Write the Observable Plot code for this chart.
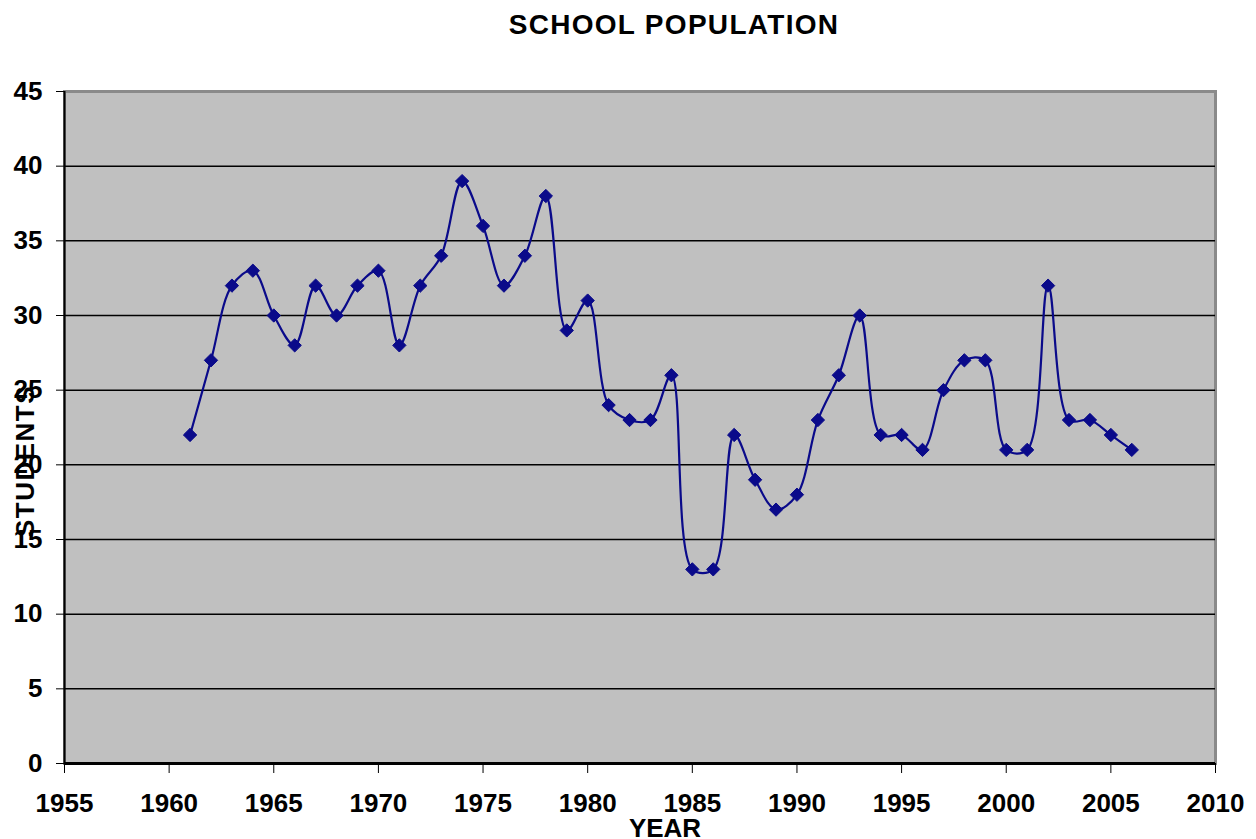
<!DOCTYPE html>
<html>
<head>
<meta charset="utf-8">
<script src="https://cdn.jsdelivr.net/npm/d3@7"></script>
<script src="https://cdn.jsdelivr.net/npm/@observablehq/plot@0.6"></script>
<style>
  body { margin: 0; background: #fff; font-family: "Liberation Sans", Arial, sans-serif; }
  #wrap { width: 1256px; height: 839px; position: relative; overflow: hidden; }
  #title { position: absolute; left: 0; width: 1256px; top: 7px; padding-left: 92px; box-sizing: border-box; text-align: center; font-weight: bold; font-size: 28px; letter-spacing: 1.3px; height: 42px; line-height: 36px; }
  #chart { position: absolute; left: 0; top: 50px; }
  #ylab { position: absolute; left: 25px; top: 461px; width: 0; height: 0; z-index: 2; }
  #ylab span { position: absolute; left: 0; top: 0; transform: translate(-50%, -50%) rotate(-90deg); white-space: nowrap; font-weight: bold; font-size: 26px; letter-spacing: 1.5px; line-height: 26px; }
</style>
</head>
<body>
<div id="wrap">
  <div id="title">SCHOOL POPULATION</div>
  <div id="chart"></div>
  <div id="ylab"><span>STUDENTS</span></div>
</div>
<script>
const years = [1961,1962,1963,1964,1965,1966,1967,1968,1969,1970,1971,1972,1973,1974,1975,1976,1977,1978,1979,1980,1981,1982,1983,1984,1985,1986,1987,1988,1989,1990,1991,1992,1993,1994,1995,1996,1997,1998,1999,2000,2001,2002,2003,2004,2005,2006];
const students = [22,27,32,33,30,28,32,30,32,33,28,32,34,39,36,32,34,38,29,31,24,23,23,26,13,13,22,19,17,18,23,26,30,22,22,21,25,27,27,21,21,32,23,23,22,21];
const yTicks = [0,5,10,15,20,25,30,35,40,45];
const xTicks = [1955,1960,1965,1970,1975,1980,1985,1990,1995,2000,2005,2010];
const gridY = [5,10,15,20,25,30,35,40];

const data = years.map((y, i) => ({year: y, students: students[i]}));
const navy = "#0a0a8a";

const chart = Plot.plot({
  width: 1256,
  height: 789,
  marginTop: 41,
  marginBottom: 76,
  marginLeft: 64,
  marginRight: 41,
  style: {fontFamily: "'Liberation Sans', Arial, sans-serif", fontWeight: "bold", fontSize: "26px", color: "#000", background: "transparent"},
  x: {domain: [1955, 2010], ticks: xTicks, tickFormat: d => String(d), label: null},
  y: {domain: [0, 45], ticks: yTicks, label: null},
  marks: [
    Plot.frame({fill: "#c0c0c0", stroke: "#8a8a8a", strokeWidth: 3}),
    Plot.ruleY(gridY, {stroke: "#000", strokeWidth: 1.5}),
    Plot.ruleX([1955], {stroke: "#000", strokeWidth: 2}),
    Plot.ruleY([0], {stroke: "#000", strokeWidth: 3}),
    Plot.axisY({ticks: yTicks, tickSize: 8, tickPadding: 14, tickWidth: 3, fontSize: 26, label: null}),
    Plot.axisX({ticks: xTicks, tickSize: 10, tickPadding: 20, tickFormat: d => String(d), fontSize: 26, label: null}),
    Plot.line(data, {x: "year", y: "students", stroke: navy, strokeWidth: 2.2, curve: "catmull-rom"}),
    Plot.dot(data, {x: "year", y: "students", symbol: "diamond2", r: 6, fill: navy, stroke: navy, strokeWidth: 1}),
    Plot.text(["YEAR"], {frameAnchor: "bottom", dx: 25, dy: 73, fontSize: 26, fontWeight: "bold", fill: "#000"})
  ]
});
document.getElementById("chart").appendChild(chart);
</script>
</body>
</html>
